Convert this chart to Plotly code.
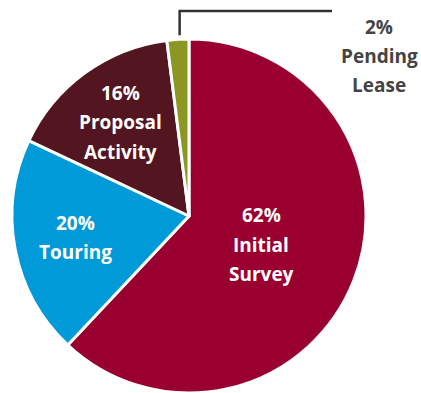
import math
import plotly.graph_objects as go

# ---- data ----
labels = ["Initial Survey", "Touring", "Proposal Activity", "Pending Lease"]
label_lines = [["Initial", "Survey"], ["Touring"], ["Proposal", "Activity"], ["Pending", "Lease"]]
values = [62, 20, 16, 2]
colors = ["#990030", "#009AD8", "#531621", "#8C9723"]

# ---- layout geometry (pixels) ----
W, H = 421, 393
cx, cy, R = 189, 216, 177
label_rf = [0.44, 0.65, 0.655, None]
FONT = "Open Sans"
LINE = 29.5

fig = go.Figure(go.Pie(
    labels=labels, values=values, sort=False, direction="clockwise", rotation=0,
    marker=dict(colors=colors, line=dict(color="white", width=3)),
    textinfo="none", hoverinfo="label+percent", showlegend=False,
    domain=dict(x=[(cx - R) / W, (cx + R) / W], y=[max(0, 1 - (cy + R) / H), 1 - (cy - R) / H]),
))

total = sum(values)
cum = 0
annotations = []
shapes = []
for i, v in enumerate(values):
    mid = (cum + v / 2) / total * 2 * math.pi
    cum += v
    pct = f"{round(v / total * 100)}%"
    lines = [pct] + label_lines[i]
    if label_rf[i] is not None:
        px = cx + label_rf[i] * R * math.sin(mid)
        py = cy - label_rf[i] * R * math.cos(mid)
        color = "white"
    else:
        # outside label with leader line
        sx = cx + (R + 4) * math.sin(mid) + 2
        sy = cy - (R + 4) * math.cos(mid)
        shapes.append(dict(type="path", xref="paper", yref="paper",
                           path=f"M {sx / W},{1 - sy / H} L {sx / W},{1 - 11 / H} L {332 / W},{1 - 11 / H}",
                           line=dict(color="#333333", width=2.5)))
        px, py = 379, 56
        color = "#444444"
    n = len(lines)
    for j, t in enumerate(lines):
        off = (j - (n - 1) / 2) * LINE
        annotations.append(dict(x=px / W, y=1 - (py + off) / H, xref="paper", yref="paper",
                                text=t, showarrow=False, xanchor="center", yanchor="middle",
                                font=dict(family=FONT, size=19, color=color, weight="bold")))

fig.update_layout(width=W, height=H, margin=dict(l=0, r=0, t=0, b=0),
                  paper_bgcolor="white", plot_bgcolor="white",
                  annotations=annotations, shapes=shapes)
fig.write_html("out.html")
